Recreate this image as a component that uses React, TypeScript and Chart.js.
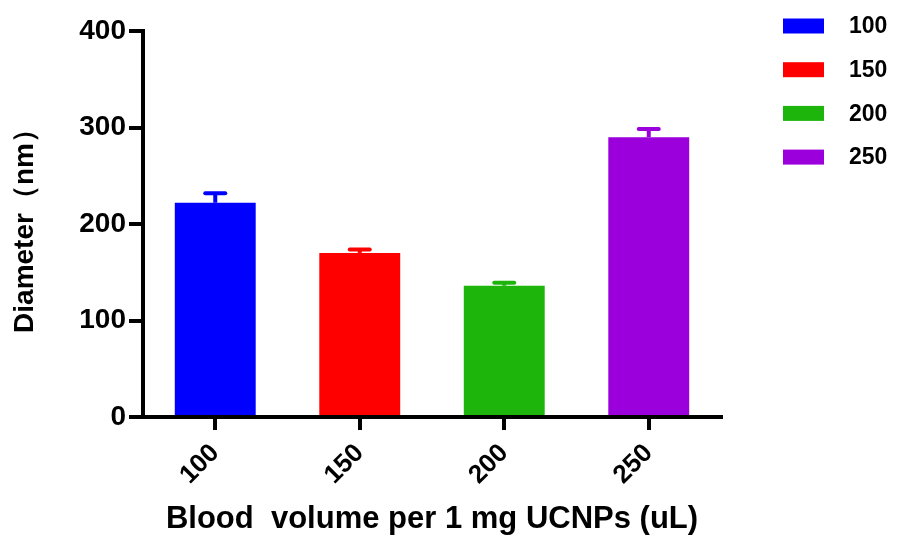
import React, { useEffect, useRef } from "react";
import { Chart, registerables } from "chart.js";

Chart.register(...registerables);

const categories = ["100", "150", "200", "250"];
const diameters = [222, 170, 136, 290];
const errors = [9.8, 3.7, 3.0, 8.4];
const barColors = ["#0000ff", "#ff0000", "#1db50c", "#9b00dc"];
const yTicks = [0, 100, 200, 300, 400];

const FONT = "'Liberation Sans', Arial, Helvetica, sans-serif";

const errorBarPlugin = {
  id: "errorBars",
  afterDatasetsDraw(chart: any) {
    const meta = chart.getDatasetMeta(0);
    const yScale = chart.scales.y;
    const ctx = chart.ctx;
    ctx.save();
    meta.data.forEach((el: any, i: number) => {
      const top = yScale.getPixelForValue(diameters[i] + errors[i]);
      ctx.strokeStyle = barColors[i];
      ctx.lineWidth = 4;
      ctx.lineCap = "butt";
      ctx.beginPath();
      ctx.moveTo(el.x, el.y);
      ctx.lineTo(el.x, top);
      ctx.stroke();
      ctx.lineCap = "round";
      ctx.beginPath();
      ctx.moveTo(el.x - 10, top);
      ctx.lineTo(el.x + 10, top);
      ctx.stroke();
    });
    ctx.restore();
  },
};

const legendPlugin = {
  id: "sideLegend",
  afterDraw(chart: any) {
    const ctx = chart.ctx;
    const left = chart.chartArea.right + 62;
    ctx.save();
    ctx.font = `bold 23px ${FONT}`;
    ctx.textBaseline = "middle";
    ctx.textAlign = "left";
    categories.forEach((c, i) => {
      const cy = 26 + i * 43.7;
      ctx.fillStyle = barColors[i];
      ctx.fillRect(left, cy - 7.5, 41, 15);
      ctx.fillStyle = "#000";
      ctx.fillText(c, left + 66, cy + 1);
    });
    ctx.restore();
  },
};

export default function App() {
  const ref = useRef<HTMLCanvasElement | null>(null);
  useEffect(() => {
    document.body.style.margin = "0";
    const canvas = ref.current!;
    const chart = new Chart(canvas, {
      type: "bar",
      data: {
        labels: categories,
        datasets: [
          {
            data: diameters,
            backgroundColor: barColors,
            borderWidth: 0,
            categoryPercentage: 1,
            barPercentage: 0.56,
          },
        ],
      },
      options: {
        responsive: false,
        animation: false,
        devicePixelRatio: 1,
        layout: { padding: { left: 0, top: 31, right: 176, bottom: 0 } },
        plugins: { legend: { display: false }, tooltip: { enabled: false } },
        scales: {
          x: {
            type: "category",
            offset: true,
            grid: {
              display: true,
              drawOnChartArea: false,
              offset: false,
              tickLength: 13,
              tickWidth: 4,
              lineWidth: 4,
              color: "#000",
              tickColor: "#000",
            },
            border: { display: true, color: "#000", width: 4 },
            ticks: {
              color: "#000",
              font: { family: FONT, size: 26, weight: "bold" },
              maxRotation: 45,
              minRotation: 45,
              padding: 8,
            },
            title: {
              display: true,
              text: "Blood  volume per 1 mg UCNPs (uL)",
              color: "#000",
              font: { family: FONT, size: 31, weight: "bold" },
              padding: { top: 0, bottom: 2 },
            },
            afterFit(scale: any) {
              scale.height = 123;
            },
          },
          y: {
            min: 0,
            max: 400,
            afterBuildTicks(scale: any) {
              scale.ticks = yTicks.map((v) => ({ value: v }));
            },
            grid: {
              display: true,
              drawOnChartArea: false,
              tickLength: 14,
              tickWidth: 4,
              lineWidth: 4,
              color: "#000",
              tickColor: "#000",
            },
            border: { display: true, color: "#000", width: 4 },
            ticks: {
              color: "#000",
              font: { family: FONT, size: 28, weight: "bold" },
              padding: 3,
            },
            title: {
              display: true,
              text: "Diameter（nm）",
              color: "#000",
              font: { family: FONT, size: 28, weight: "bold" },
              padding: { top: 8, bottom: 0 },
            },
            afterFit(scale: any) {
              scale.width = 143;
            },
          },
        },
      },
      plugins: [errorBarPlugin, legendPlugin],
    } as any);
    return () => chart.destroy();
  }, []);
  return <canvas ref={ref} width={897} height={540} style={{ display: "block" }} />;
}
